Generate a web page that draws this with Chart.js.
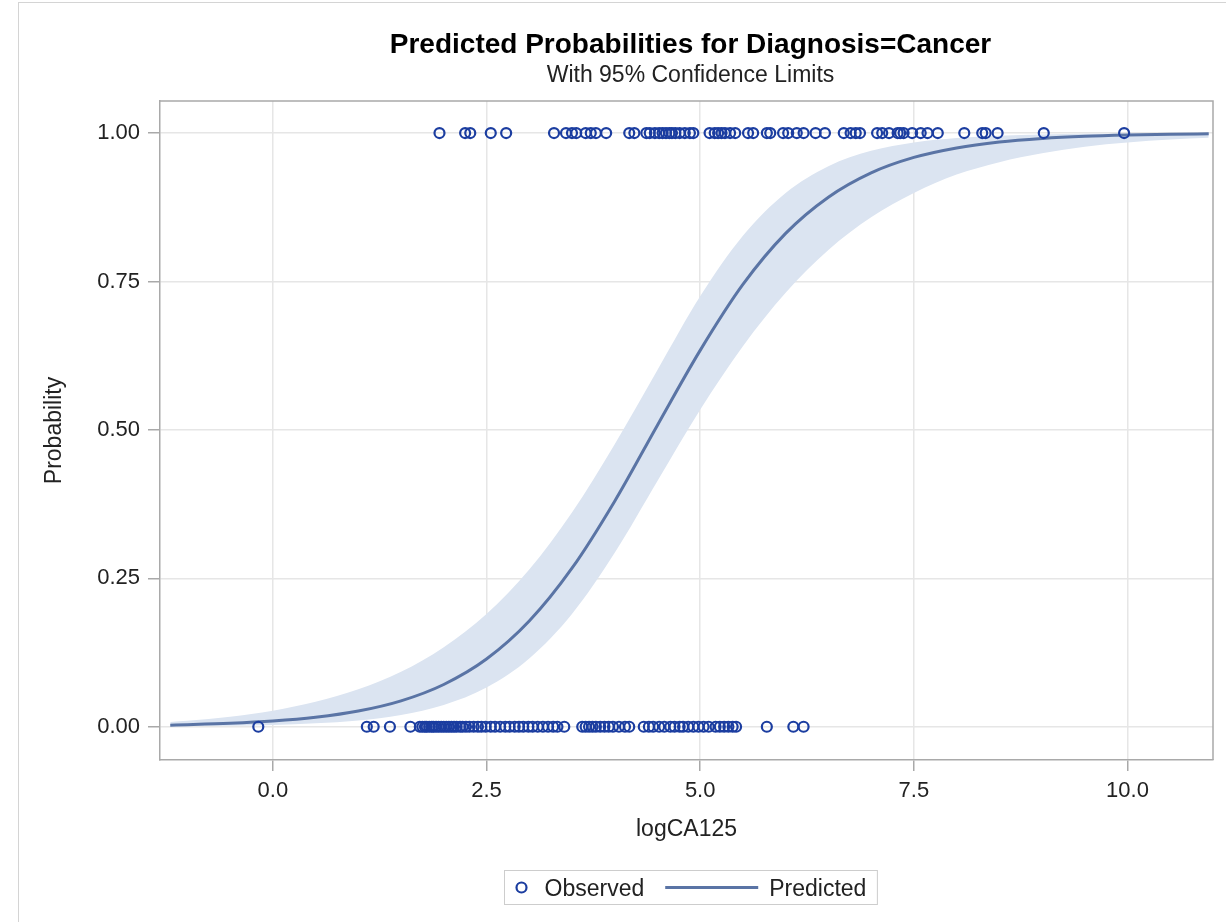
<!DOCTYPE html>
<html><head><meta charset="utf-8">
<script src="https://cdn.jsdelivr.net/npm/chart.js@4.4.1/dist/chart.umd.min.js"></script>
<style>
html,body{margin:0;padding:0;background:#fff;overflow:hidden;}
#wrap{position:relative;width:1226px;height:922px;}
#frame{position:absolute;left:18px;top:2px;width:1230px;height:930px;border-left:1px solid #d4d4d4;border-top:1px solid #d4d4d4;}
canvas{position:absolute;left:0;top:0;}
</style></head><body>
<div id="wrap"><div id="frame"></div><canvas id="c" width="1226" height="922"></canvas></div>
<script>
// ---- data ----
const titleText = 'Predicted Probabilities for Diagnosis=Cancer';
const subtitleText = 'With 95% Confidence Limits';
const xLabel = 'logCA125';
const yLabel = 'Probability';
const xTicks = [0, 2.5, 5, 7.5, 10];
const yTicks = [0, 0.25, 0.5, 0.75, 1];

const curveX    = [-1.2, -1.0, -0.5, 0.0, 0.5, 1.0, 1.5, 2.0, 2.5, 3.0, 3.5, 4.0, 4.5, 5.0, 5.5, 6.0, 6.5, 7.0, 7.5, 8.0, 8.5, 9.0, 9.5, 10.0, 10.5, 10.95];
const predicted = [0.0027, 0.0034, 0.0057, 0.0095, 0.0159, 0.0264, 0.0436, 0.0712, 0.114, 0.178, 0.267, 0.380, 0.508, 0.634, 0.745, 0.831, 0.892, 0.933, 0.959, 0.975, 0.985, 0.991, 0.9947, 0.9968, 0.9981, 0.9988];
const upperCL   = [0.008, 0.010, 0.017, 0.027, 0.042, 0.063, 0.0925, 0.134, 0.190, 0.265, 0.361, 0.476, 0.601, 0.725, 0.827, 0.899, 0.944, 0.970, 0.984, 0.9915, 0.9956, 0.9977, 0.9988, 0.9994, 0.9997, 0.9998];
const lowerCL   = [0.0007, 0.0009, 0.0016, 0.0030, 0.0057, 0.0107, 0.0199, 0.0367, 0.066, 0.115, 0.190, 0.293, 0.414, 0.534, 0.641, 0.731, 0.803, 0.858, 0.899, 0.930, 0.951, 0.966, 0.977, 0.984, 0.989, 0.992];

const observedCancer = [1.95, 2.25, 2.31, 2.55, 2.73, 3.29, 3.43, 3.50, 3.55, 3.66, 3.72, 3.78, 3.90, 4.17, 4.23, 4.37, 4.41, 4.47, 4.52, 4.56, 4.60, 4.64, 4.67, 4.71, 4.76, 4.82, 4.88, 4.92, 5.11, 5.17, 5.21, 5.25, 5.29, 5.35, 5.41, 5.56, 5.62, 5.78, 5.82, 5.97, 6.03, 6.13, 6.21, 6.35, 6.46, 6.68, 6.76, 6.82, 6.87, 7.07, 7.13, 7.21, 7.31, 7.34, 7.38, 7.48, 7.58, 7.66, 7.78, 8.09, 8.30, 8.34, 8.48, 9.02, 9.96];
const observedBenign = [-0.17, 1.10, 1.18, 1.37, 1.61, 1.72, 1.75, 1.78, 1.80, 1.83, 1.86, 1.88, 1.91, 1.94, 1.97, 2.00, 2.03, 2.06, 2.09, 2.12, 2.15, 2.19, 2.22, 2.26, 2.30, 2.35, 2.40, 2.44, 2.49, 2.55, 2.60, 2.66, 2.72, 2.77, 2.83, 2.88, 2.93, 2.99, 3.04, 3.10, 3.16, 3.22, 3.28, 3.33, 3.41, 3.62, 3.66, 3.70, 3.74, 3.78, 3.83, 3.88, 3.93, 3.98, 4.05, 4.12, 4.17, 4.34, 4.40, 4.45, 4.52, 4.58, 4.65, 4.70, 4.76, 4.80, 4.86, 4.92, 4.98, 5.04, 5.10, 5.18, 5.23, 5.28, 5.33, 5.38, 5.42, 5.78, 6.09, 6.21];

// ---- styles ----
const FONT = '"Liberation Sans", Arial, Helvetica, sans-serif';
const MARKER = '#1b3da0';
const LINE = '#5a74a5';
const BAND = '#dbe4f1';
const GRID = '#e6e6e6';
const FRAME = '#a9a9a9';
const TEXT = '#222222';

const toPts = (xs, ys) => xs.map((x, i) => ({x: x, y: ys[i]}));
const obsPts = observedCancer.map(x => ({x: x, y: 1})).concat(observedBenign.map(x => ({x: x, y: 0})));

const decor = {
  id: 'decor',
  afterDraw(chart) {
    const {ctx, chartArea: a} = chart;
    ctx.save();
    ctx.strokeStyle = FRAME; ctx.lineWidth = 1.5;
    ctx.beginPath();
    ctx.moveTo(a.left, a.top); ctx.lineTo(a.right, a.top); ctx.lineTo(a.right, a.bottom);
    ctx.stroke();
    const cx = (a.left + a.right) / 2 + 4;
    ctx.textAlign = 'center'; ctx.textBaseline = 'alphabetic';
    ctx.fillStyle = '#000';
    ctx.font = 'bold 28px ' + FONT;
    ctx.fillText(titleText, cx, 53);
    ctx.font = '23px ' + FONT;
    ctx.fillStyle = TEXT;
    ctx.fillText(subtitleText, cx, 82);
    // legend
    const ds = chart.data.datasets;
    const obs = ds[0], pred = ds[1];
    ctx.font = '23px ' + FONT;
    const w1 = ctx.measureText(obs.label).width;
    const w2 = ctx.measureText(pred.label).width;
    const boxW = 17 + 23 + w1 + 21 + 93 + 11 + w2 + 11;
    const bx = Math.round(cx - boxW / 2) + 0.5, by = 870.5, bh = 34;
    ctx.strokeStyle = '#cdcdcd'; ctx.lineWidth = 1;
    ctx.strokeRect(bx, by, boxW, bh);
    const my = by + bh / 2;
    ctx.beginPath();
    ctx.arc(bx + 17, my, 5, 0, Math.PI * 2);
    ctx.strokeStyle = obs.borderColor; ctx.lineWidth = obs.borderWidth;
    ctx.stroke();
    ctx.fillStyle = TEXT; ctx.textAlign = 'left';
    ctx.fillText(obs.label, bx + 40, my + 8);
    const lx = bx + 40 + w1 + 21;
    ctx.beginPath(); ctx.moveTo(lx, my); ctx.lineTo(lx + 93, my);
    ctx.strokeStyle = pred.borderColor; ctx.lineWidth = pred.borderWidth; ctx.stroke();
    ctx.fillText(pred.label, lx + 93 + 11, my + 8);
    ctx.restore();
  }
};

new Chart(document.getElementById('c'), {
  type: 'scatter',
  data: {
    datasets: [
      {label: 'Observed', data: obsPts, showLine: false, pointStyle: 'circle', pointRadius: 5, pointHoverRadius: 5,
       borderColor: MARKER, backgroundColor: 'rgba(0,0,0,0)', borderWidth: 2.2, order: 0},
      {label: 'Predicted', data: toPts(curveX, predicted), showLine: true, pointRadius: 0, borderColor: LINE,
       borderWidth: 3, cubicInterpolationMode: 'monotone', fill: false, order: 1},
      {label: 'Upper', data: toPts(curveX, upperCL), showLine: true, pointRadius: 0, borderWidth: 0, borderColor: 'rgba(0,0,0,0)',
       backgroundColor: BAND, cubicInterpolationMode: 'monotone', fill: '+1', order: 2},
      {label: 'Lower', data: toPts(curveX, lowerCL), showLine: true, pointRadius: 0, borderWidth: 0, borderColor: 'rgba(0,0,0,0)',
       cubicInterpolationMode: 'monotone', fill: false, order: 3}
    ]
  },
  options: {
    responsive: false, animation: false, devicePixelRatio: 1,
    layout: {padding: {left: 41, right: 13, top: 101, bottom: 79}},
    plugins: {legend: {display: false}, title: {display: false}, tooltip: {enabled: false}},
    scales: {
      x: {
        type: 'linear', min: -1.32, max: 11.0,
        afterBuildTicks: s => { s.ticks = xTicks.map(v => ({value: v})); },
        afterFit: s => { s.height = 83; },
        grid: {color: GRID, lineWidth: 1.5, tickColor: FRAME, tickLength: 11, tickWidth: 1.5},
        border: {color: FRAME, width: 1.5},
        ticks: {font: {family: FONT, size: 22}, color: TEXT, padding: 7, maxRotation: 0,
                callback: v => Number(v).toFixed(1)},
        title: {display: true, text: xLabel, font: {family: FONT, size: 23}, color: TEXT, padding: 0}
      },
      y: {
        type: 'linear', min: -0.056, max: 1.054,
        afterBuildTicks: s => { s.ticks = yTicks.map(v => ({value: v})); },
        afterFit: s => { s.width = 119; },
        grid: {color: GRID, lineWidth: 1.5, tickColor: FRAME, tickLength: 12, tickWidth: 1.5},
        border: {color: FRAME, width: 1.5},
        ticks: {font: {family: FONT, size: 22}, color: TEXT, padding: 8,
                callback: v => Number(v).toFixed(2)},
        title: {display: true, text: yLabel, font: {family: FONT, size: 23}, color: TEXT, padding: 0}
      }
    }
  },
  plugins: [decor]
});
</script>
</body></html>
